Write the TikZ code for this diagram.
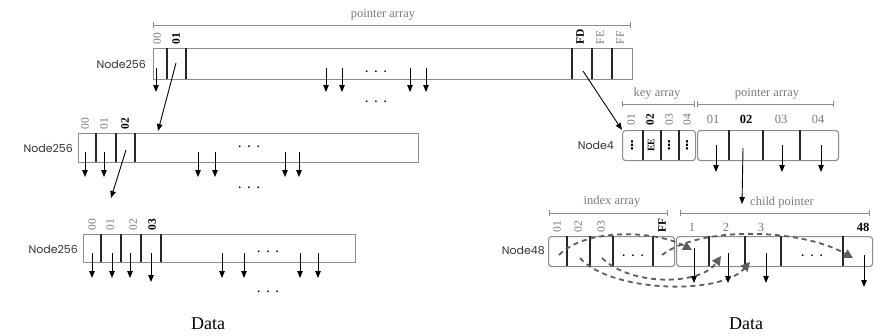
\documentclass[tikz,border=0pt]{standalone}
\usepackage{fontspec}
\setmainfont{Liberation Serif}
\newfontfamily\nodefont{Poppins}
\newfontfamily\symfont{DejaVu Sans}
\usetikzlibrary{arrows.meta, positioning, calc}
\definecolor{boxgray}{HTML}{8C8C8C}
\definecolor{labelgray}{HTML}{7A7A7A}
\definecolor{linkgray}{HTML}{5A5E63}
\newcommand{\celldots}{\textbf{.\hspace{6.5pt}.\hspace{6.5pt}.}}

\begin{document}
\begin{tikzpicture}[
    x=1pt, y=-1pt,
    outer/.style={draw=boxgray, line width=1.1pt, minimum height=30pt, inner sep=0pt, anchor=north west},
    router/.style={outer, rounded corners=3pt},
    divider/.style={draw=black!85, line width=1.1pt},
    ptr/.style={-{Triangle[width=5.5pt,length=7pt]}, line width=0.9pt},
    link/.style={-{Triangle[width=9pt,length=9pt]}, draw=linkgray, line width=1.8pt, dash pattern=on 5pt off 4pt},
    span/.style={|-|, draw=boxgray, line width=0.9pt},
    spantext/.style={font=\fontsize{12.5}{14}\selectfont, text=labelgray, inner sep=1pt},
    key/.style={rotate=90, anchor=west, font=\fontsize{11.5}{12}\selectfont, text=labelgray, inner sep=0.5pt},
    keyhi/.style={key, font=\fontsize{11.5}{12}\selectfont\bfseries, text=black},
    slot/.style={font=\fontsize{12.5}{14}\selectfont, text=labelgray, inner sep=1pt},
    slothi/.style={slot, font=\fontsize{12.5}{14}\selectfont\bfseries, text=black},
    nodename/.style={anchor=east, font=\nodefont\fontsize{11}{12}\selectfont, text=black!80, inner sep=1pt},
    gap/.style={anchor=base, font=\fontsize{11}{12}\selectfont, inner sep=0pt},
    vgap/.style={inner sep=0pt, font=\symfont\bfseries\fontsize{12}{12}\selectfont},
    caption/.style={font=\fontsize{18}{20}\selectfont}
]
\useasboundingbox (0,0) rectangle (875,335);

% Node256 at the root
\node[outer, minimum width=479pt, minimum height=31pt] (root) at (153,48) {};
\node[nodename] (root-name) at (147,64) {Node256};
\foreach \x in {167,186,572,592,612} \draw[divider] (\x,48) -- (\x,79);
\foreach \x/\k in {157/00, 600/FE, 620/FF} \node[key] (root-k\k) at (\x,45) {\k};
\node[keyhi] (root-k01) at (176,45) {01};
\node[keyhi] (root-kFD) at (580,45) {FD};
\draw[span] (153,25) -- (631,25);
\node[spantext] (root-span) at (383,15) {pointer array};
\foreach \x [count=\i] in {156,326,342,410,426} {
  \coordinate (root-s\i) at (\x,68);
  \coordinate (root-e\i) at (\x,92);
  \draw[ptr] (root-s\i) -- (root-e\i);
}
\node[gap] (root-gap1) at (376,72) {\celldots};
\node[gap] (root-gap2) at (376,102) {\celldots};

% Node256, second level
\node[outer, minimum width=340pt, minimum height=29pt] (mid) at (78,133) {};
\node[nodename] (mid-name) at (74,148) {Node256};
\foreach \x in {96,116,135} \draw[divider] (\x,133) -- (\x,162);
\foreach \x/\k in {85/00, 104/01} \node[key] (mid-k\k) at (\x,130) {\k};
\node[keyhi] (mid-k02) at (125,130) {02};
\foreach \x [count=\i] in {85,104,198,215,285,299} {
  \coordinate (mid-s\i) at (\x,152);
  \coordinate (mid-e\i) at (\x,177);
  \draw[ptr] (mid-s\i) -- (mid-e\i);
}
\node[gap] (mid-gap1) at (249,147) {\celldots};
\node[gap] (mid-gap2) at (249,188) {\celldots};

% Node256, third level
\node[outer, minimum width=272pt, minimum height=28pt] (leaf) at (83,234) {};
\node[nodename] (leaf-name) at (79,249) {Node256};
\foreach \x in {101,121,141,161} \draw[divider] (\x,234) -- (\x,262);
\foreach \x/\k in {92/00, 110/01, 133/02} \node[key] (leaf-k\k) at (\x,231) {\k};
\node[keyhi] (leaf-k03) at (152,231) {03};
\foreach \x [count=\i] in {92,112,130,222,244,300,318} {
  \coordinate (leaf-s\i) at (\x,253);
  \coordinate (leaf-e\i) at (\x,278);
  \draw[ptr] (leaf-s\i) -- (leaf-e\i);
}
\coordinate (leaf-s03) at (151,253);
\coordinate (leaf-e03) at (151,282);
\draw[ptr] (leaf-s03) -- (leaf-e03);
\node[gap] (leaf-gap1) at (268,252) {\celldots};
\node[gap] (leaf-gap2) at (268,292) {\celldots};

% Links down the Node256 chain
\coordinate (root-01) at (176,63);
\coordinate (mid-in) at (158,131);
\draw[ptr] (root-01) -- (mid-in);
\coordinate (mid-02) at (126,150);
\coordinate (leaf-in) at (111,198);
\draw[ptr] (mid-02) -- (leaf-in);

% Node4
\node[router, minimum width=73pt] (n4keys) at (622,130) {};
\node[router, minimum width=141pt] (n4ptrs) at (697,130) {};
\node[nodename] (n4-name) at (615,145) {Node4};
\foreach \x in {643,661,679,729,763,800} \draw[divider] (\x,130) -- (\x,160);
\foreach \x/\k in {631/01, 669/03, 687/04} \node[key] (n4-k\k) at (\x,126) {\k};
\node[keyhi] (n4-k02) at (650,126) {02};
\foreach \x [count=\i] in {632,669,687} \node[vgap] (n4-v\i) at (\x,145) {⋮};
\node[rotate=90, inner sep=0pt, font=\fontsize{10}{11}\selectfont\bfseries] (n4-ee) at (651,145) {EE};
\foreach \x/\k in {713/01, 781/03, 818/04} \node[slot] (n4-p\k) at (\x,119) {\k};
\node[slothi] (n4-p02) at (746,119) {02};
\draw[span] (622,104) -- (695,104);
\draw[span] (697,104) -- (834,104);
\node[spantext] (n4-keyspan) at (657,94) {key array};
\node[spantext] (n4-ptrspan) at (767,94) {pointer array};
\foreach \x [count=\i] in {716,782,821} {
  \coordinate (n4-s\i) at (\x,145);
  \coordinate (n4-e\i) at (\x,172);
  \draw[ptr] (n4-s\i) -- (n4-e\i);
}
\coordinate (root-FD) at (583,71);
\draw[ptr] (root-FD) -- (n4keys.north west);

% Node48
\node[router, minimum width=126pt] (n48idx) at (548,236) {};
\node[router, minimum width=196pt] (n48ptr) at (676,236) {};
\node[nodename] (n48-name) at (546,251) {Node48};
\foreach \x in {567,590,613,653,709,745,781,843} \draw[divider] (\x,236) -- (\x,266);
\foreach \x/\k in {557/01, 578/02, 601/03} \node[key] (n48-k\k) at (\x,233) {\k};
\node[keyhi] (n48-kFF) at (662,233) {FF};
\foreach \x/\k in {692/1, 726/2, 761/3} \node[slot] (n48-p\k) at (\x,227) {\k};
\node[slothi] (n48-p48) at (863,227) {48};
\draw[span] (549,213) -- (668,213);
\draw[span] (680,213) -- (870,213);
\node[spantext] (n48-idxspan) at (612,202) {index array};
\node[spantext] (n48-ptrspan) at (782,202) {child pointer};
\node[gap] (n48-gap1) at (633,256) {\celldots};
\node[gap] (n48-gap2) at (812,256) {\celldots};
\coordinate (n4-02) at (743,148);
\coordinate (n48-in) at (742,204);
\draw[ptr] (n4-02) -- (n48-in);

% index entries to child slots
\coordinate (ix01) at (559,255);
\coordinate (ix02) at (580,258);
\coordinate (ix03) at (602,258);
\coordinate (ixFF) at (662,255);
\coordinate (cp1) at (692,250);
\coordinate (cp2) at (721,256);
\coordinate (cp3) at (750,262);
\coordinate (cp48) at (853,258);
\draw[link] (ix01) .. controls (585,228) and (655,230) .. (cp1);
\draw[link] (ixFF) .. controls (700,226) and (800,228) .. (cp48);
\draw[link] (ix02) .. controls (610,292) and (720,296) .. (cp3);
\draw[link] (ix03) .. controls (630,286) and (700,286) .. (cp2);

\foreach \x/\a/\b [count=\i] in {694/248/283, 728/253/283, 766/253/283, 864/255/287} {
  \coordinate (n48-s\i) at (\x,\a);
  \coordinate (n48-e\i) at (\x,\b);
  \draw[ptr] (n48-s\i) -- (n48-e\i);
}

% data captions
\node[caption] (data-left) at (208,324) {Data};
\node[caption] (data-right) at (746,324) {Data};
\end{tikzpicture}
\end{document}
